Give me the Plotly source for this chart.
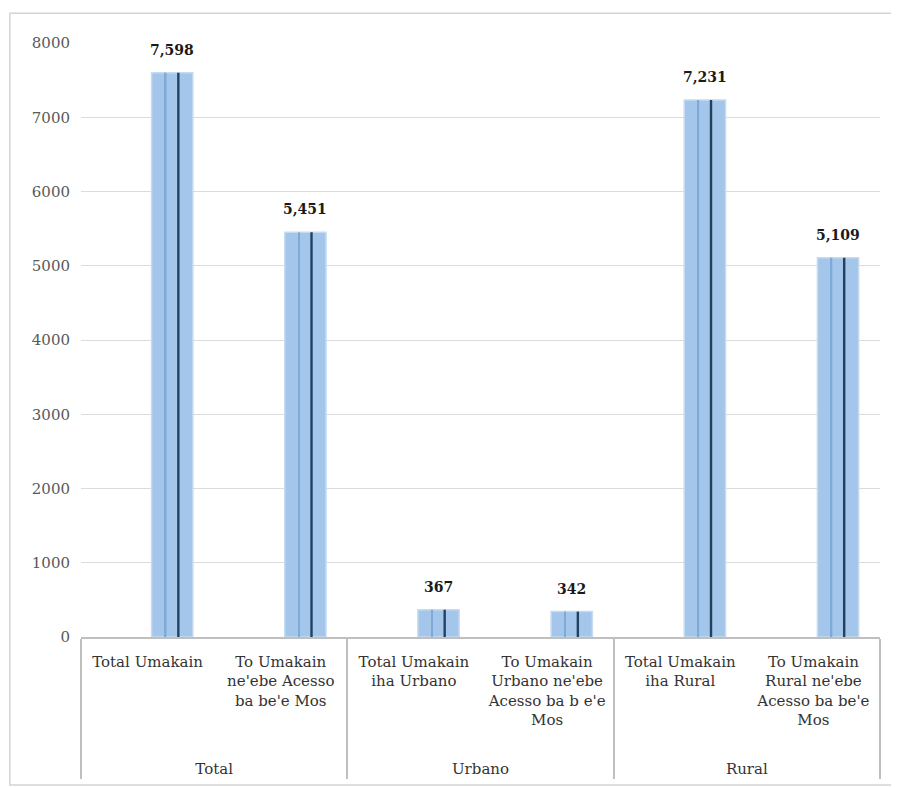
import plotly.graph_objects as go

groups = ["Total", "Total", "Urbano", "Urbano", "Rural", "Rural"]
categories = [
    "Total Umakain",
    "To Umakain<br>ne'ebe Acesso<br>ba be'e Mos",
    "Total Umakain<br>iha Urbano",
    "To Umakain<br>Urbano ne'ebe<br>Acesso ba b e'e<br>Mos<br>&nbsp;<br>&nbsp;",
    "Total Umakain<br>iha Rural",
    "To Umakain<br>Rural ne'ebe<br>Acesso ba be'e<br>Mos<br>&nbsp;<br>&nbsp;",
]
values = [7598, 5451, 367, 342, 7231, 5109]
value_labels = ["7,598", "5,451", "367", "342", "7,231", "5,109"]
y_ticks = [0, 1000, 2000, 3000, 4000, 5000, 6000, 7000, 8000]

FONT = "DejaVu Serif, Liberation Serif, serif"
x = [groups, categories]
BAR_OFFSET, BAR_WIDTH = 0.03, 0.31

fig = go.Figure()
fig.add_trace(go.Bar(
    x=x, y=values,
    offset=BAR_OFFSET, width=BAR_WIDTH,
    marker=dict(color="#a4c6ea", line=dict(color="#c4dbf2", width=1.5)),
    showlegend=False, hoverinfo="skip",
))
# subtle inner shading line
fig.add_trace(go.Bar(
    x=x, y=values, offset=0.13, width=0.012,
    marker=dict(color="#7fa9d6", line=dict(width=0)),
    showlegend=False, hoverinfo="skip",
))
# dark inner line
fig.add_trace(go.Bar(
    x=x, y=values, offset=0.222, width=0.018,
    marker=dict(color="#23415f", line=dict(width=0)),
    showlegend=False, hoverinfo="skip",
))

annotations = [
    dict(x=i + BAR_OFFSET + BAR_WIDTH / 2, y=v, xref="x", yref="y",
         text="<b>%s</b>" % lbl, showarrow=False, yshift=23, yanchor="middle",
         font=dict(family=FONT, size=14, color="#1a1a1a"))
    for i, (v, lbl) in enumerate(zip(values, value_labels))
]

fig.update_layout(
    width=891, height=779,
    margin=dict(l=73, r=19, t=35, b=150),
    paper_bgcolor="white", plot_bgcolor="white",
    barmode="overlay",
    font=dict(family=FONT, size=15, color="#333333"),
    annotations=annotations,
    yaxis=dict(
        range=[0, 8000], tickvals=y_ticks, ticktext=[str(v) for v in y_ticks],
        showgrid=True, gridcolor="#dcdcdc", gridwidth=1,
        zeroline=False, showline=False, ticks="",
        tickfont=dict(family=FONT, size=15, color="#595959"),
        ticklabelstandoff=10, automargin=False,
    ),
    xaxis=dict(
        type="multicategory",
        showline=True, linecolor="#bfbfbf", linewidth=1.5,
        showdividers=True, dividercolor="#bfbfbf", dividerwidth=1.5,
        ticks="", tickfont=dict(family=FONT, size=15, color="#333333"),
        ticklabelstandoff=10, automargin=False,
    ),
    shapes=[dict(
        type="rect", xref="paper", yref="paper",
        x0=-0.089, x1=1.021, y0=-0.249, y1=1.05,
        line=dict(color="#d4d4d4", width=1.5), fillcolor="rgba(0,0,0,0)",
        layer="below",
    )],
)

fig.write_html("out.html")
